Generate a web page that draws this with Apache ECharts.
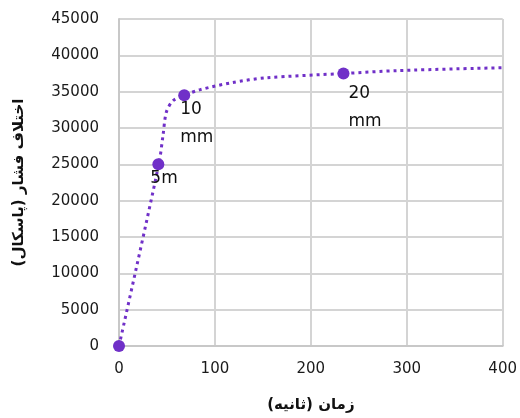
<!DOCTYPE html>
<html>
<head>
<meta charset="utf-8">
<script src="https://cdn.jsdelivr.net/npm/echarts@6/dist/echarts.min.js"></script>
<style>html,body{margin:0;padding:0;background:#fff;}#c{width:520px;height:418px;}</style>
</head>
<body>
<div id="c"></div>
<script>
// Measured points (time s, pressure Pa)
const markerX = [0, 41, 68, 234];
const markerY = [0, 25000, 34500, 37500];
const markerLabels = ['', '5m', '10\nmm', '20\nmm'];
// Trend (dotted) curve
const curveX = [0, 41.5, 45.9, 49.4, 56.3, 68, 84, 118, 153, 234, 291, 400];
const curveY = [0, 25000, 29000, 32200, 33750, 34500, 35250, 36250, 36900, 37500, 37900, 38300];
const xTicks = [0, 100, 200, 300, 400];
const yTicks = [0, 5000, 10000, 15000, 20000, 25000, 30000, 35000, 40000, 45000];
const xTitle = 'زمان (ثانیه)';
const yTitle = 'اختلاف فشار (پاسکال)';

const labelPos = [[-2,6],[2,6],[11,12]];
const FF = '"DejaVu Sans", Verdana, sans-serif';
const chart = echarts.init(document.getElementById('c'), null, {renderer:'canvas'});
const purple = '#7030C8';
const tickFont = {fontFamily:FF, fontSize:15, color:'#1a1a1a'};
chart.setOption({
  animation:false,
  grid:{left:119, right:15, top:19, bottom:68, containLabel:false},
  xAxis:{
    type:'value', min:xTicks[0], max:xTicks[xTicks.length-1], interval:100,
    name:xTitle, nameLocation:'middle', nameGap:52,
    nameTextStyle:{fontFamily:FF, fontWeight:'bold', fontSize:15, color:'#111'},
    axisLine:{show:true, lineStyle:{color:'#c8c8c8', width:2}},
    axisTick:{show:false},
    splitLine:{show:true, lineStyle:{color:'#d4d4d4', width:2}},
    axisLabel:Object.assign({margin:16, formatter:v=>String(v)}, tickFont)
  },
  yAxis:{
    type:'value', min:yTicks[0], max:yTicks[yTicks.length-1], interval:5000,
    name:yTitle, nameLocation:'middle', nameGap:92, nameRotate:90,
    nameTextStyle:{fontFamily:FF, fontWeight:'bold', fontSize:15, color:'#111'},
    axisLine:{show:true, lineStyle:{color:'#c8c8c8', width:2}},
    axisTick:{show:false},
    splitLine:{show:true, lineStyle:{color:'#d4d4d4', width:2}},
    axisLabel:Object.assign({margin:20, formatter:v=>String(v)}, tickFont)
  },
  series:[
    {
      type:'line', smooth:0.3, showSymbol:false, silent:true,
      data: curveX.map((x,i)=>[x, curveY[i]]),
      lineStyle:{color:purple, width:3, type:[3,4]},
      z:2
    },
    {
      type:'scatter', symbol:'circle', symbolSize:12,
      itemStyle:{color:purple, opacity:1},
      data: markerX.map((x,i)=>({
        value:[x, markerY[i]],
        label: markerLabels[i]==='' ? {show:false} :
               {show:true, formatter: markerLabels[i], position: labelPos[i-1],
                align:'left', verticalAlign:'top'}
      })),
      label:{fontFamily:FF, fontSize:17, color:'#111', lineHeight:28},
      z:3
    }
  ]
});
</script>
</body>
</html>
